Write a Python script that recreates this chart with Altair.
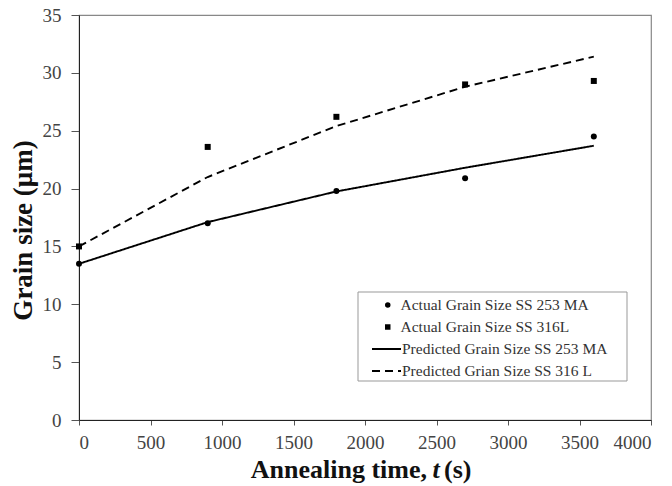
import altair as alt
import pandas as pd

# ---- data ----
times = [0, 900, 1800, 2700, 3600]
actual_253 = [13.5, 17.0, 19.8, 20.9, 24.5]
actual_316 = [15.0, 23.6, 26.2, 29.0, 29.3]
pred_253 = [13.5, 17.1, 19.75, 21.8, 23.7]
pred_316 = [15.0, 21.0, 25.4, 28.8, 31.4]

point_names = ["Actual Grain Size SS 253 MA", "Actual Grain Size SS 316L"]
line_names = ["Predicted Grain Size SS 253 MA", "Predicted Grian Size SS 316 L"]

pts = pd.DataFrame(
    [{"t": t, "g": v, "series": point_names[0]} for t, v in zip(times, actual_253)]
    + [{"t": t, "g": v, "series": point_names[1]} for t, v in zip(times, actual_316)]
)
lns = pd.DataFrame(
    [{"t": t, "g": v, "series": line_names[0]} for t, v in zip(times, pred_253)]
    + [{"t": t, "g": v, "series": line_names[1]} for t, v in zip(times, pred_316)]
)

FONT = "Liberation Serif"
W, H = 572, 405

xscale = alt.Scale(domain=[0, 4000], nice=False)
yscale = alt.Scale(domain=[0, 35], nice=False)

axis_common = dict(grid=False, labelFont=FONT, labelFontSize=19, labelColor="#444",
                   tickColor="#555", domainColor="#222",
                   titleFont=FONT, titleFontWeight="bold",
                   titleColor="#111", format="d")

xaxis = alt.Axis(values=list(range(0, 4001, 500)), title=None,
                 tickSize=5, labelPadding=8, **axis_common)
yaxis = alt.Axis(values=list(range(0, 36, 5)), title="Grain size (μm)",
                 tickSize=8, labelPadding=10, titleFontSize=27,
                 titleX=-56, titleY=215, titleAlign="center",
                 titleBaseline="middle", titleAngle=-90, **axis_common)

legend_common = dict(orient="none", title=None, labelFont=FONT, labelFontSize=15.5,
                     labelColor="#333", clipHeight=22, rowPadding=0, padding=0,
                     labelLimit=0)

lines = alt.Chart(lns).mark_line(color="black", strokeWidth=1.9).encode(
    x=alt.X("t:Q", scale=xscale, axis=xaxis),
    y=alt.Y("g:Q", scale=yscale, axis=yaxis),
    strokeDash=alt.StrokeDash(
        "series:N",
        scale=alt.Scale(domain=line_names, range=[[1, 0], [8, 5]]),
        legend=alt.Legend(legendX=292, legendY=323, symbolType="stroke",
                          symbolSize=841, symbolStrokeColor="black",
                          symbolStrokeWidth=1.9, labelOffset=0, **legend_common),
    ),
)

points = alt.Chart(pts).mark_point(filled=True, color="black", opacity=1).encode(
    x=alt.X("t:Q", scale=xscale, axis=xaxis),
    y=alt.Y("g:Q", scale=yscale, axis=yaxis),
    shape=alt.Shape(
        "series:N",
        scale=alt.Scale(domain=point_names, range=["circle", "square"]),
        legend=alt.Legend(legendX=301, legendY=279, symbolSize=30,
                          symbolFillColor="black", symbolStrokeWidth=0,
                          labelOffset=5, **legend_common),
    ),
    size=alt.value(36),
)

one = pd.DataFrame({"a": [0]})
legend_box = alt.Chart(one).mark_rect(fill=None, stroke="#999", strokeWidth=1).encode(
    x=alt.value(279), x2=alt.value(548), y=alt.value(277), y2=alt.value(366)
)

title_main = alt.Chart(one).mark_text(font=FONT, fontSize=26, fontWeight="bold",
                                      align="right", baseline="alphabetic",
                                      color="#111").encode(
    x=alt.value(348), y=alt.value(463), text=alt.value("Annealing time,")
)
title_t = alt.Chart(one).mark_text(font=FONT, fontSize=26, fontWeight="bold",
                                   fontStyle="italic", align="center",
                                   baseline="alphabetic", color="#111").encode(
    x=alt.value(357), y=alt.value(463), text=alt.value("t")
)
title_s = alt.Chart(one).mark_text(font=FONT, fontSize=26, fontWeight="bold",
                                   align="left", baseline="alphabetic",
                                   color="#111").encode(
    x=alt.value(365), y=alt.value(463), text=alt.value("(s)")
)

chart = alt.layer(legend_box, lines, points, title_main, title_t, title_s).properties(
    width=W, height=H,
    autosize=alt.AutoSizeParams(type="none"),
    padding={"left": 79, "top": 15, "right": 21, "bottom": 66},
    background="white",
).configure_view(stroke="#888", strokeWidth=1.2).resolve_scale(
    shape="independent", strokeDash="independent"
)

chart.save("out.html", embed_options={"renderer": "svg", "actions": False})
